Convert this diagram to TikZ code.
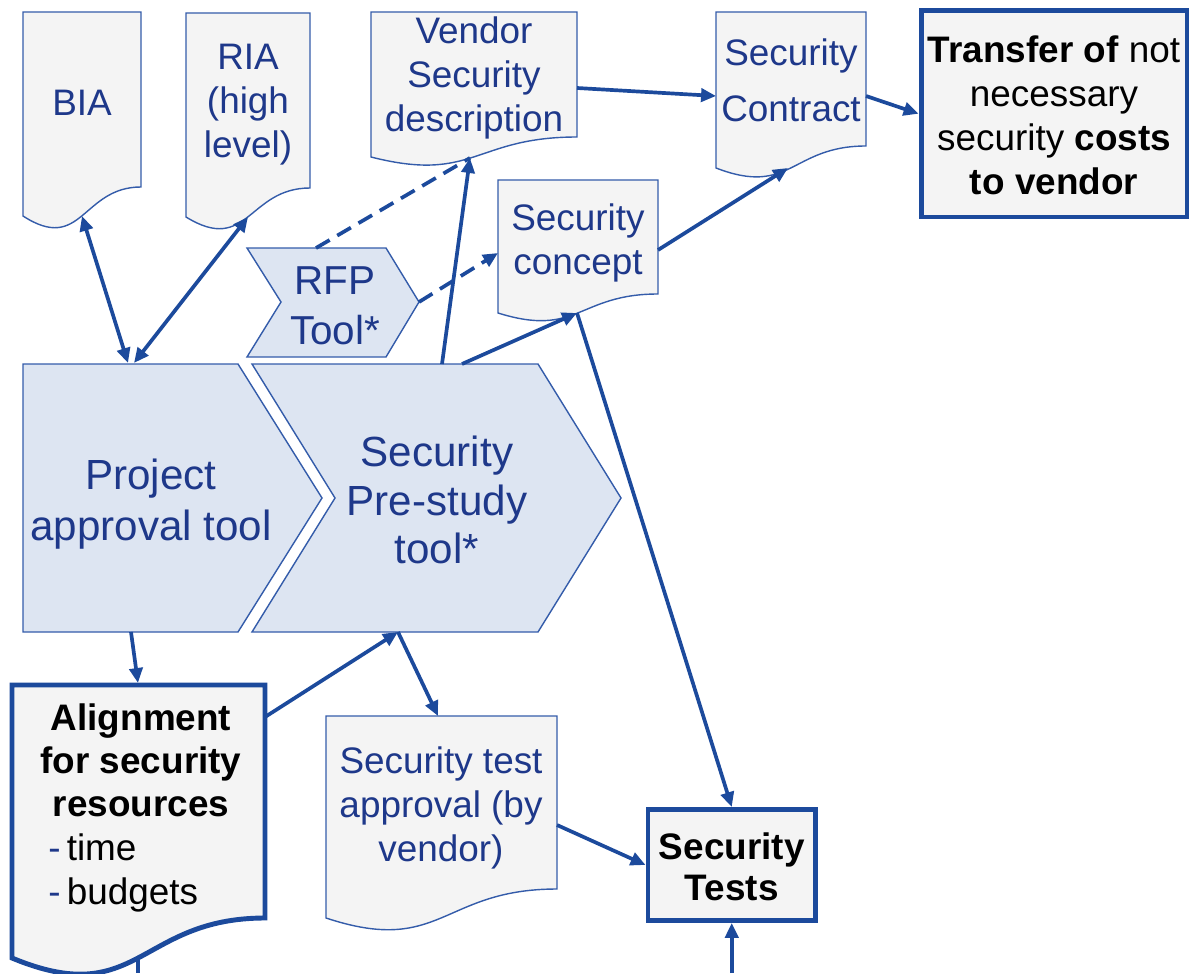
\documentclass[tikz,border=0pt]{standalone}
\usepackage{fontspec}
\setmainfont{Liberation Sans}
\usepackage{tikz}
\usetikzlibrary{arrows.meta, calc}
\definecolor{linkblue}{RGB}{28,74,156}
\definecolor{shapeblue}{RGB}{52,92,170}
\definecolor{textblue}{RGB}{30,56,138}
\definecolor{docfill}{RGB}{244,244,244}
\definecolor{chevfill}{RGB}{221,229,242}
\tikzset{
    docbox/.style={draw=shapeblue, line width=0.8pt, fill=docfill},
    docboxthick/.style={draw=linkblue, line width=2.8pt, fill=docfill},
    chevron/.style={draw=shapeblue, line width=0.8pt, fill=chevfill},
    thickbox/.style={draw=linkblue, line width=2.8pt, fill=docfill, inner sep=0pt},
    doctext/.style={text=textblue, align=center, inner sep=0pt, font=\fontsize{21}{25}\selectfont},
    tooltext/.style={text=textblue, align=center, inner sep=0pt, font=\fontsize{24}{29}\selectfont},
    boldtext/.style={text=black, align=center, inner sep=0pt, font=\fontsize{21}{25}\selectfont},
    conn/.style={draw=linkblue, line width=2.1pt},
    >={Triangle[length=8.5pt,width=7.5pt]},
}
% document shape: [style]{x left}{x right}{y top}{y bottom right}{y bottom left}
\newcommand{\docshape}[6][docbox]{%
    \draw[#1] (#2,#4) -- (#3,#4) -- (#3,#5)
        .. controls ({(#2+#3)/2},#5) and ({(#2+#3)/2},{#5+2.316*(#6-#5)}) .. (#2,#6) -- cycle;}

\begin{document}
\begin{tikzpicture}[x=0.02cm, y=-0.02cm]
    \useasboundingbox (0,0) rectangle (1189,973);

    \docshape{23}{141}{12}{187}{216}
    \docshape{186}{310}{13}{188}{217}
    \docshape{371}{577}{12}{137}{157}
    \docshape{716}{866}{12}{146}{168}
    \docshape{498}{658}{180}{294}{313}
    \docshape{326}{557}{716}{889}{918}
    \docshape[docboxthick]{12}{265}{685}{918}{958}

    \draw[chevron](247,248)--(386,248)--(419,302)--(386,357)--(247,357)--(281,302)--cycle;
    \draw[chevron](23,364)--(238,364)--(322,498)--(238,632)--(23,632)--cycle;
    \draw[chevron](252,364)--(538,364)--(621,498)--(538,632)--(252,632)--(335,498)--cycle;

    \node[doctext] (bia) at (82,103) {BIA};
    \node[doctext] (ria) at (248,105) {RIA\\(high\\level)};
    \node[doctext] (vendor) at (474,78) {Vendor\\Security\\description};
    \node[doctext, font=\fontsize{21}{32}\selectfont] (contract) at (791,80) {Security\\Contract};
    \node[doctext] (concept) at (578,243) {Security\\concept};
    \node[doctext] (approval) at (441,808) {Security test\\approval (by\\vendor)};
    \node[tooltext, font=\fontsize{23}{28.5}\selectfont] (rfp) at (335,306) {RFP\\Tool*};
    \node[tooltext] (project) at (151,504) {Project\\approval tool};
    \node[tooltext, font=\fontsize{24}{27.5}\selectfont] (prestudy) at (437,500) {Security\\Pre-study\\tool*};
    \node[thickbox, minimum width=5.32cm, minimum height=4.13cm] (transfer) at (1054,113.75) {};
    \node[boldtext] (transfertext) at ([yshift=-0.03cm]transfer) {\textbf{Transfer of} not\\necessary\\security \textbf{costs}\\\textbf{to vendor}};
    \node[thickbox, minimum width=3.35cm, minimum height=2.22cm] (tests) at (731.75,865) {};
    \node[boldtext, font=\fontsize{21}{23.5}\selectfont\bfseries] (teststext) at ([yshift=-0.04cm]tests) {Security\\Tests};
    \node[boldtext, font=\fontsize{21}{24.5}\selectfont\bfseries] (aligntext) at (141,760) {Alignment\\for security\\resources};
    \node[boldtext, align=left, anchor=north west] (alignlist) at (48,833) {{\color{textblue}-}\,time\\{\color{textblue}-}\,budgets};

    \coordinate (bia-s) at (82,216);
    \coordinate (ria-s) at (248,217);
    \coordinate (vendor-s) at (470,158);
    \coordinate (vendor-e) at (577,88);
    \coordinate (contract-w) at (716,96);
    \coordinate (contract-s) at (788,168);
    \coordinate (contract-e) at (866,96);
    \coordinate (concept-w) at (498,253);
    \coordinate (concept-e) at (658,250);
    \coordinate (concept-s) at (577,313);
    \coordinate (rfp-n) at (316,248);
    \coordinate (rfp-e) at (419,302);
    \coordinate (project-n1) at (128,363);
    \coordinate (project-n2) at (134,363);
    \coordinate (project-s) at (131,632);
    \coordinate (prestudy-n1) at (442,364);
    \coordinate (prestudy-n2) at (462,364);
    \coordinate (prestudy-s) at (398,632);
    \coordinate (align-n) at (138,683);
    \coordinate (align-e) at (265,717);
    \coordinate (align-s) at (138,958);
    \coordinate (approval-n) at (438,716);
    \coordinate (approval-e) at (557,825);
    \coordinate (align-out) at (138,973);
    \coordinate (tests-in) at (tests.south |- 0,973);

    \draw[conn,<->](bia-s)--(project-n1);
    \draw[conn,<->](ria-s)--(project-n2);
    \draw[conn,dash pattern=on 9pt off 5pt](rfp-n)--(vendor-s);
    \draw[conn,dash pattern=on 9pt off 5pt,->](rfp-e)--(concept-w);
    \draw[conn,->](prestudy-n1)--(vendor-s);
    \draw[conn,->](prestudy-n2)--(concept-s);
    \draw[conn,->](vendor-e)--(contract-w);
    \draw[conn,->](concept-e)--(contract-s);
    \draw[conn,->](contract-e)--(transfer.west);
    \draw[conn,->](concept-s)--(tests.north);
    \draw[conn,->](project-s)--(align-n);
    \draw[conn,->](align-e)--(prestudy-s);
    \draw[conn,->](prestudy-s)--(approval-n);
    \draw[conn,->](approval-e)--(tests.west);
    \draw[conn,->](tests-in)--(tests.south);
    \draw[conn](align-s)--(align-out);
\end{tikzpicture}
\end{document}
